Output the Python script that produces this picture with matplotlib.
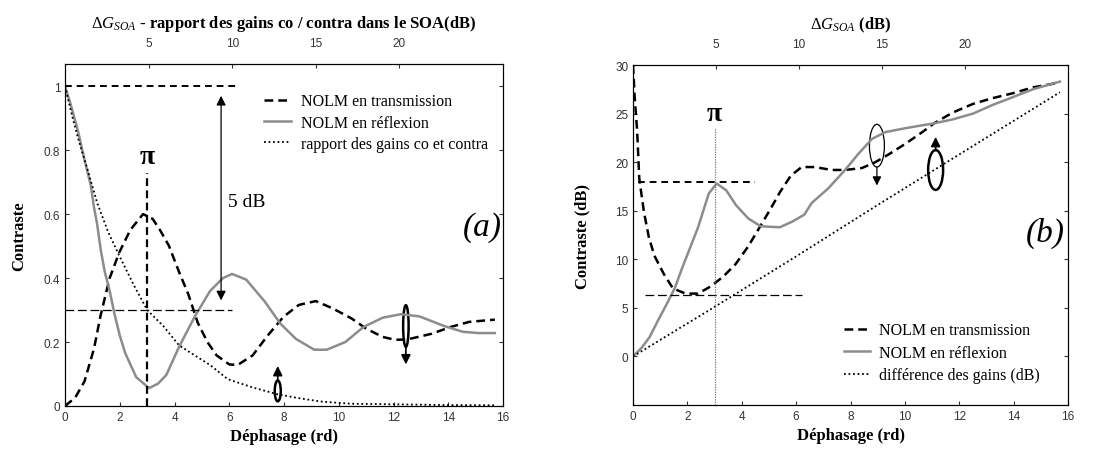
"""
NOLM contrast vs phase shift - two panels (a) linear, (b) dB
"""
import matplotlib
matplotlib.use('Agg')
import matplotlib.pyplot as plt
from matplotlib.patches import Ellipse

plt.rcParams['font.family'] = ['Liberation Serif', 'DejaVu Serif']
plt.rcParams['mathtext.fontset'] = 'custom'
plt.rcParams['mathtext.rm'] = 'Liberation Serif'
plt.rcParams['mathtext.it'] = 'Liberation Serif:italic'

# ---- panel (a) : linear contrast ----
a_trans_x = [0, 0.37, 0.71, 1.06, 1.29, 1.63, 1.98, 2.38, 2.85, 3.2, 3.47, 3.8, 4.16, 4.5, 4.85,
             5.2, 5.54, 6.0, 6.3, 6.85, 7.4, 7.98, 8.54, 9.16, 9.78, 10.46, 11.0, 11.6, 12.05,
             12.5, 13.4, 14.08, 14.76, 15.7]
a_trans_y = [0, 0.026, 0.077, 0.18, 0.28, 0.40, 0.48, 0.55, 0.60, 0.585, 0.55, 0.50, 0.42, 0.35,
             0.26, 0.20, 0.158, 0.13, 0.128, 0.158, 0.22, 0.279, 0.316, 0.328, 0.305, 0.274,
             0.242, 0.216, 0.207, 0.208, 0.226, 0.247, 0.263, 0.27]

a_refl_x = [0, 0.25, 0.48, 0.71, 0.94, 1.06, 1.17, 1.3, 1.45, 1.63, 1.8, 2.0, 2.2, 2.6, 3.07, 3.4,
            3.7, 4.16, 4.74, 5.3, 5.77, 6.1, 6.62, 7.3, 7.86, 8.43, 9.1, 9.56, 10.24, 10.9, 11.6,
            12.27, 12.95, 13.85, 14.53, 15.1, 15.7]
a_refl_y = [1.0, 0.93, 0.857, 0.77, 0.69, 0.62, 0.57, 0.49, 0.42, 0.36, 0.29, 0.22, 0.165, 0.09,
            0.056, 0.07, 0.097, 0.184, 0.28, 0.36, 0.40, 0.413, 0.395, 0.326, 0.258, 0.21, 0.176,
            0.176, 0.2, 0.247, 0.276, 0.287, 0.28, 0.25, 0.232, 0.228, 0.228]

a_gain_x = [0, 0.25, 0.48, 0.82, 1.17, 1.57, 1.98, 2.5, 3.0, 3.59, 4.16, 4.74, 5.3, 5.94, 6.85,
            7.75, 8.43, 9.33, 10.46, 12.16, 13.85, 15.7]
a_gain_y = [1.0, 0.91, 0.836, 0.74, 0.636, 0.545, 0.47, 0.38, 0.30, 0.25, 0.19, 0.158, 0.128,
            0.084, 0.058, 0.037, 0.026, 0.014, 0.007, 0.005, 0.003, 0.002]

# ---- panel (b) : contrast in dB ----
b_trans_x = [0, 0.06, 0.15, 0.23, 0.4, 0.58, 0.78, 1.13, 1.47, 1.93, 2.39, 2.85, 3.31, 3.77, 4.23,
             4.7, 5.06, 5.4, 5.8, 6.2, 6.69, 7.3, 7.8, 8.42, 8.91, 9.4, 10.02, 10.64, 11.07,
             11.75, 12.5, 13.23, 13.97, 14.7, 15.7]
b_trans_y = [30, 26.7, 23.3, 18.3, 14.9, 12.3, 10.4, 8.5, 7.0, 6.47, 6.47, 7.2, 8.2, 9.5, 11.3,
             13.5, 15.2, 16.9, 18.6, 19.5, 19.5, 19.2, 19.2, 19.4, 20.0, 20.8, 21.9, 23.1, 24.0,
             25.1, 26.0, 26.6, 27.1, 27.7, 28.2]

b_refl_x = [0, 0.32, 0.61, 0.9, 1.24, 1.53, 1.82, 2.1, 2.38, 2.79, 3.08, 3.43, 3.78, 4.24, 4.7,
            5.4, 5.87, 6.3, 6.57, 7.18, 7.8, 8.3, 8.79, 9.28, 10.02, 10.64, 11.07, 11.75, 12.5,
            13.23, 13.97, 14.7, 15.7]
b_refl_y = [0, 0.9, 2.0, 3.6, 5.4, 7.0, 9.2, 11.2, 13.2, 16.8, 17.8, 17.1, 15.6, 14.2, 13.4,
            13.3, 13.9, 14.6, 15.8, 17.3, 19.2, 20.9, 22.4, 23.1, 23.5, 23.8, 24.0, 24.4, 25.0,
            25.9, 26.7, 27.5, 28.3]

b_gain_x = [0, 3, 6, 9, 12, 15.7]
b_gain_y = [0, 5.1, 10.3, 15.6, 20.8, 27.2]

top_ticks = [5, 10, 15, 20]
top_max = 26.2   # dB at phase 16 rd

GRAY = '#8c8c8c'
TICKFONT = dict(family='Liberation Sans', size=8.5)

fig = plt.figure(figsize=(11.1, 4.52), dpi=100)
ax1 = fig.add_axes([0.0586, 0.0996, 0.3946, 0.757])
ax2 = fig.add_axes([0.5703, 0.1018, 0.3919, 0.752])


def style_axes(ax, title_text):
    ax.set_xlim(0, 16)
    ax.set_xticks(range(0, 17, 2))
    ax.tick_params(direction='in', length=3, width=0.8, right=True, colors='#333333')
    for lab in ax.get_xticklabels() + ax.get_yticklabels():
        lab.set_fontfamily(TICKFONT['family'])
        lab.set_fontsize(TICKFONT['size'])
    ax.set_xlabel('Déphasage (rd)', fontsize=12, fontweight='bold', labelpad=4)
    top = ax.twiny()
    top.set_xlim(0, top_max)
    top.set_xticks(top_ticks)
    top.tick_params(direction='in', length=3, width=0.8, colors='#333333', pad=11)
    for lab in top.get_xticklabels():
        lab.set_fontfamily(TICKFONT['family'])
        lab.set_fontsize(TICKFONT['size'])
    top.set_xlabel(title_text, fontsize=12, fontweight='bold', labelpad=7)
    return top


# ================= (a) =================
ax1.plot(a_trans_x, a_trans_y, color='black', lw=1.8, dashes=(3.5, 2), label='NOLM en transmission')
ax1.plot(a_refl_x, a_refl_y, color=GRAY, lw=1.8, label='NOLM en réflexion')
ax1.plot(a_gain_x, a_gain_y, color='black', lw=1.3, ls=(0, (1, 1.5)),
         label='rapport des gains co et contra')
ax1.set_ylim(0, 1.07)
ax1.set_yticks([0, 0.2, 0.4, 0.6, 0.8, 1])
ax1.set_yticklabels(['0', '0.2', '0.4', '0.6', '0.8', '1'])
ax1.set_ylabel('Contraste', fontsize=12, fontweight='bold', labelpad=12)
style_axes(ax1, r'$\mathit{ΔG}_{SOA}$ - rapport des gains co / contra dans le SOA(dB)')

# guide lines
ax1.plot([0, 6.25], [1, 1], color='black', lw=1.4, dashes=(3.5, 2.5))
ax1.plot([0, 6.1], [0.3, 0.3], color='black', lw=0.9, dashes=(7, 3))
ax1.plot([3, 3], [0, 0.73], color='black', lw=1.6, dashes=(3.5, 2))
ax1.text(3, 0.78, 'π', fontsize=20, fontweight='bold', ha='center', va='center')
ax1.annotate('', xy=(5.7, 0.97), xytext=(5.7, 0.33),
             arrowprops=dict(arrowstyle='<|-|>', color='black', lw=0.9,
                             mutation_scale=14, shrinkA=0, shrinkB=0))
ax1.text(5.95, 0.64, '5 dB', fontsize=14, ha='left', va='center')
ax1.text(15.95, 0.56, '(a)', fontsize=24, style='italic', ha='right', va='center')

ax1.add_patch(Ellipse((7.77, 0.047), 0.22, 0.065, fill=False, lw=1.8, ec='black'))
ax1.annotate('', xy=(7.77, 0.125), xytext=(7.77, 0.08),
             arrowprops=dict(arrowstyle='-|>', color='black', lw=1.2,
                             mutation_scale=14, shrinkA=0, shrinkB=0))
ax1.add_patch(Ellipse((12.45, 0.25), 0.2, 0.13, fill=False, lw=1.8, ec='black'))
ax1.annotate('', xy=(12.45, 0.13), xytext=(12.45, 0.185),
             arrowprops=dict(arrowstyle='-|>', color='black', lw=1.2,
                             mutation_scale=14, shrinkA=0, shrinkB=0))

ax1.legend(loc='upper left', bbox_to_anchor=(0.455, 0.914), frameon=False, fontsize=11.5,
           borderpad=0, borderaxespad=0, handlelength=1.7, handletextpad=0.6,
           labelspacing=0.33)

# ================= (b) =================
ax2.plot(b_trans_x, b_trans_y, color='black', lw=1.8, dashes=(3.5, 2), label='NOLM en transmission')
ax2.plot(b_refl_x, b_refl_y, color=GRAY, lw=1.8, label='NOLM en réflexion')
ax2.plot(b_gain_x, b_gain_y, color='black', lw=1.3, ls=(0, (1, 1.5)),
         label='différence des gains (dB)')
ax2.set_ylim(-5, 30)
ax2.set_yticks([0, 5, 10, 15, 20, 25, 30])
ax2.set_yticklabels(['0', '5', '10', '15', '20', '25', '30'])
ax2.set_ylabel('Contraste (dB)', fontsize=12, fontweight='bold', labelpad=18)
style_axes(ax2, r'$\mathit{ΔG}_{SOA}$ (dB)')

ax2.plot([0.17, 4.5], [18, 18], color='black', lw=1.4, dashes=(3.5, 2.5))
ax2.plot([0.44, 6.2], [6.3, 6.3], color='black', lw=0.9, dashes=(7, 3))
ax2.plot([3, 3], [-5, 23.5], color='#777777', lw=0.9, ls=(0, (1, 1)))
ax2.text(3, 25, 'π', fontsize=20, fontweight='bold', ha='center', va='center')
ax2.text(15.9, 12.8, '(b)', fontsize=24, style='italic', ha='right', va='center')

ax2.add_patch(Ellipse((8.97, 21.7), 0.55, 4.4, fill=False, lw=0.9, ec='black'))
ax2.annotate('', xy=(8.97, 17.6), xytext=(8.97, 19.5),
             arrowprops=dict(arrowstyle='-|>', color='black', lw=0.9,
                             mutation_scale=13, shrinkA=0, shrinkB=0))
ax2.add_patch(Ellipse((11.13, 19.2), 0.55, 4.1, fill=False, lw=1.8, ec='black'))
ax2.annotate('', xy=(11.13, 22.6), xytext=(11.13, 21.2),
             arrowprops=dict(arrowstyle='-|>', color='black', lw=1.2,
                             mutation_scale=14, shrinkA=0, shrinkB=0))

ax2.legend(loc='upper left', bbox_to_anchor=(0.485, 0.243), frameon=False, fontsize=11.5,
           borderpad=0, borderaxespad=0, handlelength=1.6, handletextpad=0.6,
           labelspacing=0.4)

plt.savefig('out.png', dpi=100)
plt.close()
